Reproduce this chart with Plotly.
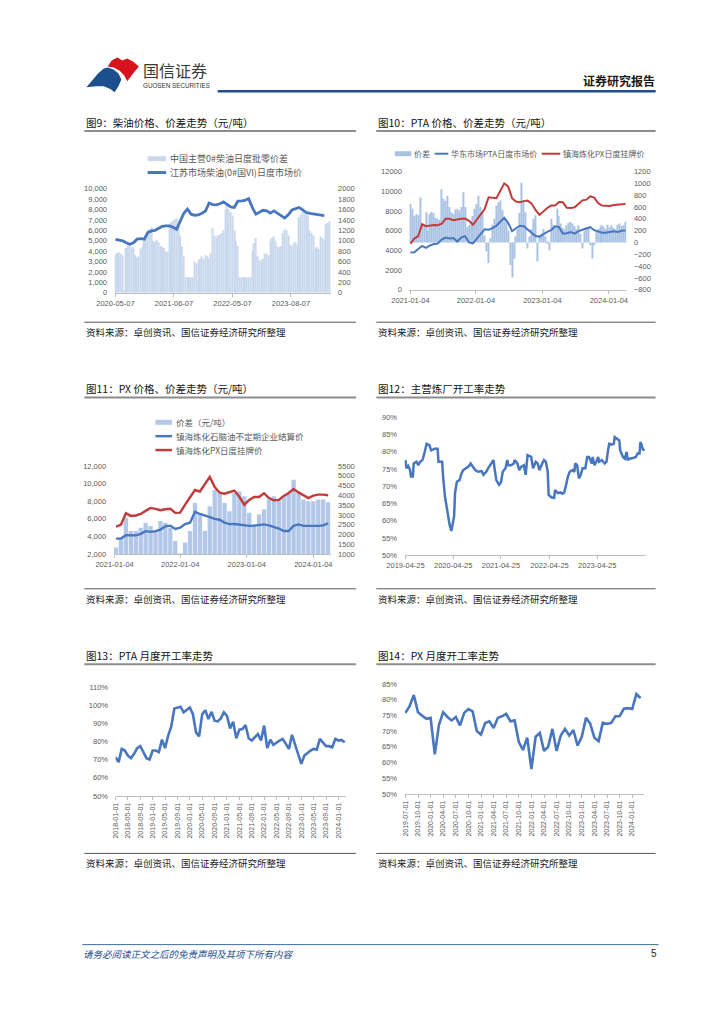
import plotly.graph_objects as go

# ---------------- page geometry helpers (page pixels -> paper) ----------------
OFF = 8
W, H = 708, 1008


def fx(X):
    return (X - OFF) / W


def fy(Y):
    return 1 - (Y - OFF) / H


CJK = "Noto Sans CJK SC"
NUM = "Liberation Sans, Noto Sans CJK SC"
BLUE = "#4876bf"
RED = "#c23b3b"
BAR9 = "#c9d8ec"
BAR10 = "#a9c2e4"
BAR11 = "#b3c8e8"
AXC = "#bfbfbf"
TXT = "#595959"

# ---------------- data: chart 9 (diesel) ----------------
c9_ticklabels = ["2020-05-07", "2021-06-07", "2022-05-07", "2023-08-07"]
c9_tickpos = [0, 32.5, 65, 97.5]
c9_spread = [740, 760, 780, 750, 720, 40, 860, 900, 920, 880, 870, 720, 680, 700, 850, 890,
             1000, 1100, 1150, 1220, 1260, 1000, 980, 1020, 970, 900, 880, 860, 800, 790,
             1300, 1350, 1380, 1420, 1430, 1370, 1100, 900, 700, 300, 300, 300, 300, 300,
             600, 560, 620, 650, 700, 650, 720, 700, 650, 760, 1240, 1100, 1050,
             1100, 1120, 1150, 1200, 1600, 1680, 1600, 1550, 1480, 1200, 1000, 900,
             300, 300, 300, 300, 300, 300, 300, 800, 950, 1050, 700, 630, 600, 650,
             750, 760, 720, 1000, 1050, 1080, 1000, 890, 870, 900, 1150, 1220, 1200,
             1100, 930, 900, 950, 980, 920, 1450, 1500, 1550, 1530, 1520, 1480,
             1200, 1150, 1100, 860, 880, 840, 1080, 1050, 1000, 1320, 1350, 1380]
c9_price = [5140, 5080, 4990, 4800, 4660, 4800, 5150, 5200, 5150, 5800, 5950, 6000, 6190,
            6380, 6430, 6420, 6300, 6100, 6900, 7650, 8050, 7550, 7450, 7480, 7650, 7850,
            8620, 8480, 8450, 8550, 8730, 8500, 8250, 8200, 8800, 8830, 8880, 9050, 8200,
            7550, 7780, 7930, 7880, 7650, 7870, 7600, 7420, 7180, 7500, 7950, 8100, 8200,
            7960, 7710, 7620, 7560, 7500, 7470, 7420]
c9_price_x = list(range(0, 2 * len(c9_price), 2))

# ---------------- data: chart 10 (PTA) ----------------
c10_ticklabels = ["2021-01-04", "2022-01-04", "2023-01-04", "2024-01-04"]
c10_tickpos = [0, 33.5, 67.5, 101.5]
c10_spread = [650, 570, 450, 480, 460, 760, 290, 300, 510, 200,
              480, 520, 500, 420, 400, 380, 900, 740, 700, 790,
              600, 510, 480, 560, 570, 540, 600, 850, 600, 260,
              300, 370, 450, 570, 650, 790, 600, 510, 120, -150,
              -350, 70, 300, 400, 620, 680, 710, 550, 400, 350,
              200, -380, -590, -270, 100, 230, 500, 1010, 680, 510,
              -100, 100, 230, 400, 460, -320, 120, 150, 230, 100,
              -20, -130, 400, 300, 260, 570, 450, 320, 250, 230,
              290, 330, 350, 320, 280, 230, 290, 150, -100, 200,
              260, 230, -45, -270, -45, 200, 230, 260, 290, 270,
              230, 300, 260, 290, 250, 230, 300, 320, 280, 290, 350]
c10_pta = [3790, 3800, 4150, 4450, 4260, 4500, 4650, 4700, 5100, 5300,
           5200, 5250, 4900, 5300, 5450, 4800, 4700, 5150, 5700, 6150,
           6100, 6250, 6500, 6870, 7300, 6800, 5950, 6250, 6500, 6450,
           6100, 5750, 5450, 5400, 5650, 5870, 6050, 6450, 6370, 5700,
           5750, 5850, 5700, 5950, 6100, 6250, 6350, 6050, 5900, 5800,
           5800, 5880, 5940, 5870, 6000, 6030]
c10_px = [4690, 5200, 5450, 6650, 6450, 6500, 6580, 6550, 6700, 7210,
          7200, 7050, 7140, 7200, 7240, 7000, 6600, 7100, 7700, 8200,
          9390, 9350, 9300, 10060, 10800, 10500, 9300, 8950, 8880, 9000,
          9050, 8750, 8100, 7600, 8000, 8300, 8550, 8550, 8900, 8880,
          8330, 8290, 8380, 8700, 9080, 9150, 9490, 9350, 8800, 8550,
          8550, 8500, 8600, 8620, 8650, 8720]
c10_line_x = list(range(0, 2 * len(c10_pta), 2))

# ---------------- data: chart 11 (PX) ----------------
c11_ticklabels = ["2021-01-04", "2022-01-04", "2023-01-04", "2024-01-04"]
c11_tickpos = [-0.3, 13, 26.5, 40]
c11_spread = [1340, 1760, 2850, 2180, 2180, 2350, 2600, 2430, 2180, 2690, 2600, 2350,
              1670, 1050, 1590, 2180, 3610, 3020, 2180, 3440, 4290, 4120, 3610, 3190,
              4120, 4200, 3950, 3110, 2520, 3020, 3280, 3780, 3950, 3780, 3950, 4120,
              4790, 4120, 3780, 3700, 3700, 3780, 3780, 3650]
c11_px = [5100, 5350, 6640, 6330, 6380, 6550, 6900, 7240, 7130, 6980, 7080, 7150,
          6680, 6700, 7620, 8500, 9270, 9100, 9870, 10750, 9600, 8960, 8850, 9000,
          9200, 8500, 7600, 8150, 8480, 8480, 8900, 8350, 8100, 8150, 8600, 8930,
          9380, 9000, 8700, 8350, 8630, 8740, 8740, 8680]
c11_naphtha = [3760, 3760, 4150, 4150, 4130, 4300, 4600, 4520, 4600, 4780, 5150, 5230,
               4850, 5000, 5400, 5560, 6800, 6550, 6400, 6200, 6000, 5900, 5560, 5400,
               5420, 5350, 5260, 5200, 5230, 5300, 5370, 5250, 5100, 4900, 4620, 4620,
               5200, 5370, 5200, 5180, 5180, 5200, 5260, 5500]

# ---------------- data: chart 12 (refinery run rate, weekly) ----------------
c12_ticklabels = ["2019-04-25", "2020-04-25", "2021-04-25", "2022-04-25", "2023-04-25"]
c12_tickpos = [0, 52, 104, 157, 209]
c12_week = [0, 1, 3, 5, 6, 8, 9, 12, 14, 16, 18, 19, 21, 23, 26, 28, 32, 35, 36, 40,
            41, 43, 46, 48, 50, 53, 54, 56, 59, 61, 63, 66, 69, 71, 74, 76, 79, 83, 85, 88,
            90, 93, 96, 97, 99, 102, 104, 106, 109, 111, 112, 115, 118, 119, 122, 124, 126, 129, 131, 133,
            137, 139, 142, 144, 146, 149, 151, 153, 155, 156, 159, 162, 163, 166, 169, 171, 173, 175, 177, 179,
            182, 184, 185, 187, 189, 191, 193, 196, 198, 200, 203, 204, 206, 208, 210, 211, 214, 217, 219, 221,
            222, 225, 227, 228, 231, 233, 234, 237, 239, 241, 242, 244, 248, 251, 253, 255, 256, 257, 259, 260]
c12_rate = [77.6, 75.2, 75.9, 74.7, 72.8, 72.8, 76.6, 77.1, 76.1, 77.1,
            77.4, 78.0, 80.0, 82.3, 81.9, 80.4, 80.9, 80.9, 77.1, 77.1,
            72.8, 67.0, 62.2, 58.9, 57.0, 61.3, 68.0, 71.3, 71.8, 73.7,
            74.7, 75.2, 75.8, 76.6, 75.6, 74.7, 74.2, 74.4, 73.3, 74.2,
            75.2, 76.6, 77.6, 75.2, 71.8, 70.4, 71.1, 74.2, 75.2, 77.6,
            76.1, 76.1, 76.6, 77.6, 76.6, 74.7, 75.6, 76.1, 73.3, 79.0,
            78.5, 75.2, 77.1, 76.6, 74.7, 76.6, 77.6, 77.1, 74.2, 67.5,
            66.8, 66.6, 68.9, 68.0, 68.2, 67.8, 68.2, 70.4, 72.8, 74.2,
            74.7, 74.2, 76.6, 76.1, 72.3, 73.3, 75.2, 75.2, 78.5, 78.5,
            76.6, 78.5, 76.1, 77.1, 78.5, 77.1, 77.6, 76.6, 77.1, 80.9,
            82.3, 82.1, 82.3, 84.3, 83.8, 83.3, 80.4, 78.5, 78.0, 80.0,
            77.6, 78.0, 78.2, 78.5, 79.5, 79.5, 82.8, 82.3, 80.4, 80.9]

# ---------------- data: chart 13 (PTA monthly run rate) ----------------
c13_ticklabels = ["2018-01-01", "2018-05-01", "2018-09-01", "2019-01-01", "2019-05-01",
                  "2019-09-01", "2020-01-01", "2020-05-01", "2020-09-01", "2021-01-01",
                  "2021-05-01", "2021-09-01", "2022-01-01", "2022-05-01", "2022-09-01",
                  "2023-01-01", "2023-05-01", "2023-09-01", "2024-01-01"]
c13_rate = [71.3, 68.6, 75.9, 75.0, 72.2, 70.8, 73.2, 76.3, 77.4, 74.1,
            70.8, 70.1, 75.0, 75.0, 74.1, 81.0, 76.3, 83.2, 88.3, 98.1,
            98.7, 99.1, 96.0, 97.4, 98.7, 95.0, 85.0, 82.8, 95.0, 97.2,
            92.3, 96.3, 91.4, 91.0, 92.7, 96.0, 94.1, 87.2, 90.8, 81.7,
            86.5, 86.8, 89.0, 81.7, 80.5, 82.3, 84.1, 80.5, 88.7, 76.3,
            81.0, 78.1, 79.5, 80.5, 81.4, 78.6, 75.9, 83.6, 78.6, 72.6,
            67.7, 72.2, 73.7, 75.0, 75.9, 75.5, 81.4, 79.2, 77.4, 77.4,
            76.8, 81.4, 80.5, 80.8, 79.5]

# ---------------- data: chart 14 (PX monthly run rate) ----------------
c14_ticklabels = ["2019-07-01", "2019-10-01", "2020-01-01", "2020-04-01", "2020-07-01",
                  "2020-10-01", "2021-01-01", "2021-04-01", "2021-07-01", "2021-10-01",
                  "2022-01-01", "2022-04-01", "2022-07-01", "2022-10-01", "2023-01-01",
                  "2023-04-01", "2023-07-01", "2023-10-01", "2024-01-01"]
c14_rate = [75.8, 77.9, 81.5, 76.0, 74.9, 73.9, 74.2, 62.6, 72.1, 76.0,
            74.5, 73.4, 74.5, 71.8, 75.8, 77.0, 76.3, 70.0, 68.9, 72.6,
            73.1, 71.0, 74.2, 74.7, 75.5, 73.1, 73.4, 66.5, 64.0, 67.9,
            57.9, 68.2, 69.4, 63.7, 65.0, 70.7, 63.7, 68.6, 70.7, 68.6,
            70.3, 65.4, 68.2, 74.2, 72.4, 67.9, 66.8, 72.6, 72.3, 72.6,
            74.7, 74.7, 77.1, 77.3, 77.0, 81.8, 80.5]

fig = go.Figure()

# chart 9 traces
fig.add_trace(go.Bar(x=list(range(len(c9_spread))), y=c9_spread, name="中国主营0#柴油日度批零价差",
                     marker=dict(color=BAR9, line=dict(width=0)), width=0.8,
                     xaxis="x", yaxis="y", showlegend=False))
fig.add_trace(go.Scatter(x=c9_price_x, y=c9_price, name="江苏市场柴油(0#国VI)日度市场价", mode="lines",
                         line=dict(color=BLUE, width=2.8), xaxis="x", yaxis="y2", showlegend=False))
# chart 10 traces
fig.add_trace(go.Bar(x=list(range(len(c10_spread))), y=c10_spread, name="价差",
                     marker=dict(color=BAR10, line=dict(width=0)), width=0.6,
                     xaxis="x2", yaxis="y3", showlegend=False))
fig.add_trace(go.Scatter(x=c10_line_x, y=c10_pta, name="华东市场PTA日度市场价", mode="lines",
                         line=dict(color=BLUE, width=2), xaxis="x2", yaxis="y4", showlegend=False))
fig.add_trace(go.Scatter(x=c10_line_x, y=c10_px, name="镇海炼化PX日度挂牌价", mode="lines",
                         line=dict(color=RED, width=2), xaxis="x2", yaxis="y4", showlegend=False))
# chart 11 traces
fig.add_trace(go.Bar(x=list(range(len(c11_spread))), y=c11_spread, name="价差（元/吨）",
                     marker=dict(color=BAR11, line=dict(width=0)), width=0.88,
                     xaxis="x3", yaxis="y5", showlegend=False))
fig.add_trace(go.Scatter(x=list(range(len(c11_naphtha))), y=c11_naphtha, name="镇海炼化石脑油不定期企业结算价",
                         mode="lines", line=dict(color=BLUE, width=2.4), xaxis="x3", yaxis="y6", showlegend=False))
fig.add_trace(go.Scatter(x=list(range(len(c11_px))), y=c11_px, name="镇海炼化PX日度挂牌价",
                         mode="lines", line=dict(color=RED, width=2.4), xaxis="x3", yaxis="y6", showlegend=False))
# chart 12-14
fig.add_trace(go.Scatter(x=c12_week, y=c12_rate, name="主营炼厂开工率", mode="lines",
                         line=dict(color=BLUE, width=2.5), xaxis="x4", yaxis="y7", showlegend=False))
fig.add_trace(go.Scatter(x=list(range(len(c13_rate))), y=c13_rate, name="PTA月度开工率", mode="lines",
                         line=dict(color=BLUE, width=2.6), xaxis="x5", yaxis="y8", showlegend=False))
fig.add_trace(go.Scatter(x=list(range(len(c14_rate))), y=c14_rate, name="PX月度开工率", mode="lines",
                         line=dict(color=BLUE, width=2.6), xaxis="x6", yaxis="y9", showlegend=False))


def xax(x0, x1, anchor, rng, tv, tt, angle=0, fs=7.5):
    return dict(domain=[fx(x0), fx(x1)], anchor=anchor, range=rng, tickvals=tv, ticktext=tt,
                tickangle=angle, showline=True, linecolor=AXC, linewidth=1, ticks="outside",
                ticklen=3, tickcolor=AXC, showgrid=False, zeroline=False,
                tickfont=dict(family=NUM, size=fs, color=TXT), fixedrange=True)


def yax(top, bottom, anchor, rng, dtick, side, fmt="d", suffix="", overlay=None, fs=7.5):
    ax = dict(anchor=anchor, range=rng, dtick=dtick, tick0=rng[0], side=side, showline=False,
              showgrid=False, zeroline=False, ticks="outside", ticklen=5,
              tickcolor="rgba(0,0,0,0)", tickformat=fmt, ticksuffix=suffix,
              tickfont=dict(family=NUM, size=fs, color=TXT), fixedrange=True)
    if overlay:
        ax["overlaying"] = overlay
    else:
        ax["domain"] = [fy(bottom), fy(top)]
    return ax


c13_tickpos = list(range(0, 4 * len(c13_ticklabels), 4))
c14_tickpos = list(range(0, 3 * len(c14_ticklabels), 3))

fig.update_layout(
    width=W, height=H, autosize=False,
    margin=dict(l=0, r=0, t=0, b=0),
    paper_bgcolor="white", plot_bgcolor="white",
    showlegend=False, barmode="overlay",
    xaxis=xax(99, 321, "y", [-0.5, 119.5], c9_tickpos, c9_ticklabels),
    yaxis=yax(186.3, 291.3, "x", [0, 2000], 200, "right"),
    yaxis2=yax(None, None, "x", [0, 10000], 1000, "left", fmt=",d", overlay="y"),
    xaxis2=xax(402, 625, "y3", [-0.5, 110.5], c10_tickpos, c10_ticklabels),
    yaxis3=yax(169, 288.3, "x2", [-800, 1200], 200, "right"),
    yaxis4=yax(None, None, "x2", [0, 12000], 2000, "left", overlay="y3"),
    xaxis3=xax(98, 321, "y5", [-0.5, 43.5], c11_tickpos, c11_ticklabels),
    yaxis5=yax(466, 555, "x3", [1000, 5500], 500, "right"),
    yaxis6=yax(None, None, "x3", [2000, 12000], 2000, "left", fmt=",d", overlay="y5"),
    xaxis4=xax(397, 645, "y7", [-1, 262], c12_tickpos, c12_ticklabels),
    yaxis7=yax(417, 556, "x4", [50, 90], 5, "left", suffix="%"),
    xaxis5=xax(100, 337, "y8", [0, 74.5], c13_tickpos, c13_ticklabels, angle=-90, fs=7),
    yaxis8=yax(689, 799, "x5", [50, 110], 10, "left", suffix="%"),
    xaxis6=xax(397, 643, "y9", [-0.2, 56.8], c14_tickpos, c14_ticklabels, angle=-90, fs=7),
    yaxis9=yax(686, 797, "x6", [50, 85], 5, "left", suffix="%"),
)


def txt(X, Y, s, size, color="#1a1a1a", family=CJK, anchor="left"):
    fig.add_annotation(x=fx(X), y=fy(Y), xref="paper", yref="paper", text=s, showarrow=False,
                       xanchor=anchor, yanchor="middle", borderpad=0,
                       font=dict(family=family, size=size, color=color))


def hline(X0, X1, Y, color, width):
    fig.add_shape(type="line", xref="paper", yref="paper", x0=fx(X0), x1=fx(X1), y0=fy(Y), y1=fy(Y),
                  line=dict(color=color, width=width))


def rect(X0, X1, Y0, Y1, color):
    fig.add_shape(type="rect", xref="paper", yref="paper", x0=fx(X0), x1=fx(X1), y0=fy(Y1), y1=fy(Y0),
                  line=dict(width=0), fillcolor=color)


def poly(pts, color):
    d = "M " + " L ".join("%.5f,%.5f" % (fx(a), fy(b)) for a, b in pts) + " Z"
    fig.add_shape(type="path", xref="paper", yref="paper", path=d, line=dict(width=0), fillcolor=color)


# ---------------- header ----------------
poly([(92, 63), (96, 57), (102, 54), (107, 57), (112, 55), (118, 58), (124, 63), (118, 70),
      (112, 78), (109, 72), (104, 67), (98, 64)], "#d7141e")
poly([(70, 84), (76, 77), (82, 70), (88, 65), (92, 64), (98, 66), (103, 70), (106, 76),
      (103, 83), (99, 89), (95, 86), (88, 83), (80, 83)], "#1b4f8e")
txt(127, 67, "国信证券", 16, color="#3a3a3a")
txt(127, 82, "GUOSEN SECURITIES", 6.3, color="#333333", family="Liberation Sans")
txt(655, 77, "<b>证券研究报告</b>", 12, color="#1a1a1a", anchor="right")
hline(205, 655, 88, "#1f4e8c", 2.5)

# ---------------- titles / rules / sources ----------------
SRC = "资料来源：卓创资讯、国信证券经济研究所整理"
for (xl, xr, ty, sy, title) in [
    (68, 347, 119, 331, "图9：柴油价格、价差走势（元/吨）"),
    (368, 655, 119, 331, "图10：PTA 价格、价差走势（元/吨）"),
    (68, 347, 388, 600, "图11：PX 价格、价差走势（元/吨）"),
    (368, 655, 388, 600, "图12：主营炼厂开工率走势"),
    (68, 347, 657, 867, "图13：PTA 月度开工率走势"),
    (368, 655, 657, 867, "图14：PX 月度开工率走势"),
]:
    txt(xl + 1, ty, title, 10.5, color="#141414")
    hline(xl, xr, ty + 9, "#8c8c8c", 2)
    hline(xl, xr, sy - 10, "#555555", 1)
    txt(xl + 1, sy, SRC, 9.5, color="#1a1a1a")

# ---------------- manual legends ----------------
rect(133, 152, 153.5, 158.5, BAR9)
txt(155, 156, "中国主营0#柴油日度批零价差", 9, color=TXT)
hline(133, 152, 170, BLUE, 3)
txt(155, 170, "江苏市场柴油(0#国VI)日度市场价", 9, color=TXT)

rect(387, 404, 148.5, 153.5, BAR10)
txt(406, 151, "价差", 8, color=TXT)
hline(428, 442, 151, BLUE, 2)
txt(444, 151, "华东市场PTA日度市场价", 8, color=TXT)
hline(538, 557, 151, RED, 2)
txt(559, 151, "镇海炼化PX日度挂牌价", 8, color=TXT)

rect(141, 158, 419.5, 424.5, BAR11)
txt(161, 422, "价差（元/吨）", 8.5, color=TXT)
hline(141, 158, 436, BLUE, 2.5)
txt(161, 436, "镇海炼化石脑油不定期企业结算价", 8.5, color=TXT)
hline(141, 158, 450, RED, 2.5)
txt(161, 450, "镇海炼化PX日度挂牌价", 8.5, color=TXT)

# ---------------- footer ----------------
hline(66, 658, 949, "#3d6f9f", 1)
txt(66, 958, "<i>请务必阅读正文之后的免责声明及其项下所有内容</i>", 9.5, color="#1f4e8c")
txt(657, 958, "5", 10, color="#222222", family="Liberation Sans", anchor="right")

fig.write_html("out.html")
